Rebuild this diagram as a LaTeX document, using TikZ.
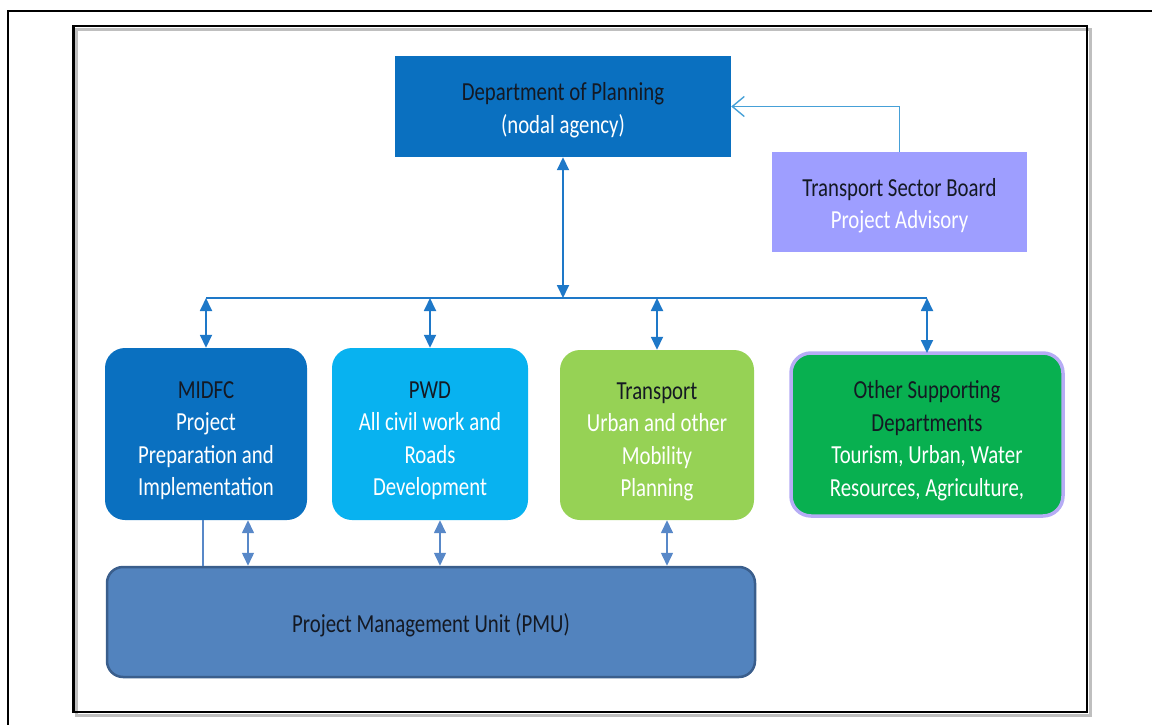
\documentclass[tikz,border=0pt]{standalone}
\usepackage{fontspec}
\setmainfont{Carlito}[FakeStretch=0.8]
\usetikzlibrary{arrows.meta}
\definecolor{deptblue}{RGB}{10,112,192}
\definecolor{pwdblue}{RGB}{8,178,240}
\definecolor{tgreen}{RGB}{150,210,85}
\definecolor{ogreen}{RGB}{8,176,80}
\definecolor{lavend}{RGB}{182,172,245}
\definecolor{tsbfill}{RGB}{158,158,255}
\definecolor{pmufill}{RGB}{82,131,190}
\definecolor{pmuborder}{RGB}{58,94,140}
\definecolor{arrowblue}{RGB}{30,120,200}
\definecolor{connblue}{RGB}{70,160,215}
\definecolor{pmuarrow}{RGB}{88,136,200}
\definecolor{darktext}{RGB}{20,25,35}
\newcommand{\dk}[1]{\textcolor{darktext}{#1}}
\tikzset{
  boxtext/.style={font=\fontsize{26}{32.5}\selectfont, align=center, text=white, inner sep=0pt, text depth=0pt},
  sqbox/.style={boxtext, draw=none, text height=53.5pt},
  rbox/.style={boxtext, rounded corners=20pt, draw=none, text height=123.5pt},
  dblarrow/.style={draw=arrowblue, line width=1.8pt,
    {Triangle[length=13pt,width=12pt]}-{Triangle[length=13pt,width=12pt]}},
  pmudbl/.style={draw=pmuarrow, line width=1.5pt,
    {Triangle[length=13pt,width=12pt]}-{Triangle[length=13pt,width=12pt]}},
  pmuplain/.style={draw=pmuarrow, line width=1.2pt},
  busline/.style={draw=arrowblue, line width=1.8pt},
  advline/.style={draw=connblue, line width=1.6pt, -{Straight Barb[length=12pt,width=20pt,line width=1.4pt]}},
}
\begin{document}
\begin{tikzpicture}[x=1pt,y=-1pt]
\useasboundingbox (0,0) rectangle (1152,725);
% outer frame (partially visible)
\draw[line width=2.5pt, line cap=rect] (8,725) -- (8,11) -- (1152,11);
% inner frame with shadow
\draw[black!25, line width=3pt] (76.5,29.5) rectangle (1090,715.5);
\draw[black, line width=2.5pt] (73.5,26) rectangle (1087,712);

% top nodes
\node[sqbox, fill=deptblue, minimum width=336pt, minimum height=101pt] (dept) at (563,106.5)
  {\dk{Department of Planning}\\(nodal agency)};
\node[sqbox, fill=tsbfill, minimum width=255pt, minimum height=100pt] (tsb) at (899.5,202)
  {\dk{Transport Sector Board}\\Project Advisory};

% department row
\node[rbox, fill=deptblue, minimum width=202pt, minimum height=172pt] (midfc) at (206,434)
  {\dk{MIDFC}\\Project\\Preparation and\\Implementation};
\node[rbox, fill=pwdblue, minimum width=196pt, minimum height=172pt] (pwd) at (430,434)
  {\dk{PWD}\\All civil work and\\Roads\\Development};
\node[rbox, fill=tgreen, minimum width=194pt, minimum height=170pt] (transport) at (657,435)
  {\dk{Transport}\\Urban and other\\Mobility\\Planning};
\node[rbox, fill=ogreen, draw=lavend, line width=3.5pt, minimum width=272pt, minimum height=163pt] (other) at (927,434.5)
  {\dk{Other Supporting}\\\dk{Departments}\\Tourism, Urban, Water\\Resources, Agriculture,};

% PMU
\node[boxtext, text height=20pt, text=darktext, fill=pmufill, draw=pmuborder, line width=2.5pt, rounded corners=16pt,
  minimum width=648pt, minimum height=110pt] (pmu) at (431,622)
  {Project Management Unit (PMU)};

% advisory connector
\draw[advline] (tsb.north) |- (dept.east);

% bus
\coordinate (busL) at (206,298);
\coordinate (busR) at (927,298);
\draw[busline] (midfc.north |- busL) -- (other.north |- busR);
\draw[dblarrow] (dept.south) -- (dept.south |- busL);
\draw[dblarrow] (midfc.north |- busL) -- (midfc.north);
\draw[dblarrow] (pwd.north |- busL) -- (pwd.north);
\draw[dblarrow] (transport.north |- busL) -- (transport.north);
\draw[dblarrow] (other.north |- busL) -- ([yshift=-1.75pt]other.north);

% PMU links
\draw[pmuplain] ([xshift=-3pt]midfc.south) -- ([xshift=-3pt]midfc.south |- pmu.north);
\draw[pmudbl] ([xshift=42pt]midfc.south) -- ([xshift=42pt]midfc.south |- pmu.north);
\draw[pmudbl] ([xshift=10pt]pwd.south) -- ([xshift=10pt]pwd.south |- pmu.north);
\draw[pmudbl] ([xshift=10pt]transport.south) -- ([xshift=10pt]transport.south |- pmu.north);
\end{tikzpicture}
\end{document}
